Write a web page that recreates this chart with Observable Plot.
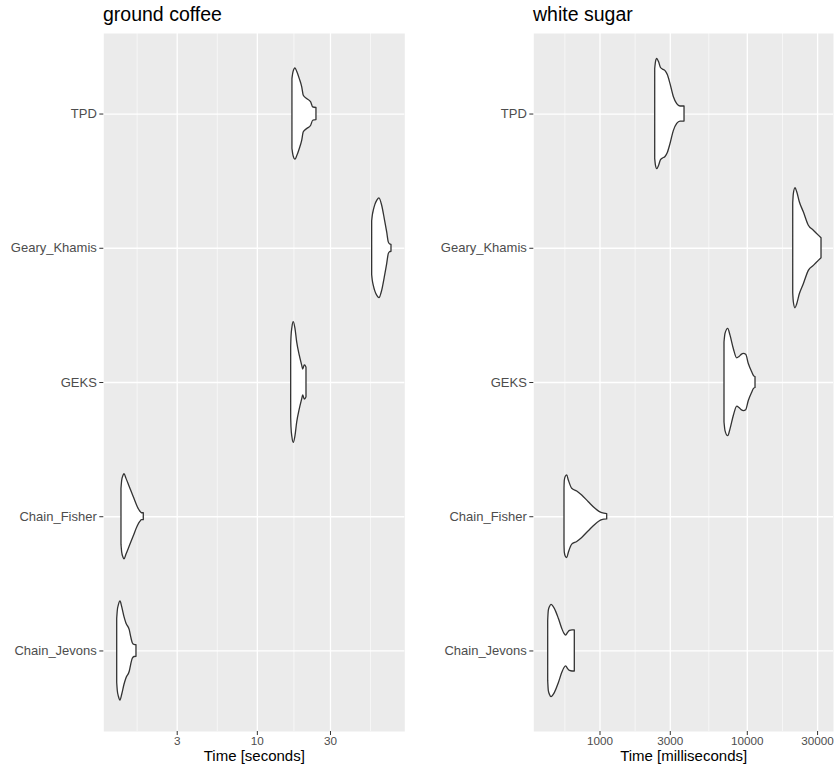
<!DOCTYPE html>
<html>
<head>
<meta charset="utf-8">
<script src="https://cdn.jsdelivr.net/npm/d3@7"></script>
<script src="https://cdn.jsdelivr.net/npm/@observablehq/plot@0.6"></script>
<style>
  html, body { margin: 0; padding: 0; background: white; }
  #wrap { position: relative; width: 837px; height: 769px; font-family: "Liberation Sans", Arial, sans-serif; }
  .ttl { position: absolute; top: 4px; font-size: 19.5px; line-height: 21px; color: #000; white-space: nowrap; }
  .pnl { position: absolute; top: 33px; }
</style>
</head>
<body>
<div id="wrap">
  <div class="ttl" style="left:103px">ground coffee</div>
  <div class="ttl" style="left:533px">white sugar</div>
  <div class="pnl" id="left" style="left:0px"></div>
  <div class="pnl" id="right" style="left:418px"></div>
</div>
<script>
// Categories (bottom to top)
const categories = ["Chain_Jevons", "Chain_Fisher", "GEKS", "Geary_Khamis", "TPD"];

// Axis breaks
const coffeeTicks = [3, 10, 30];
const coffeeMinor = [1.643, 5.477, 17.32, 54.77];
const sugarTicks = [1000, 3000, 10000, 30000];
const sugarMinor = [577.4, 1732, 5477, 17321];

// Violin profiles: [time, half-width (in category units)]
// ground coffee (seconds)
const coffee_Chain_Jevons = [[1.218,0.238],[1.229,0.298],[1.251,0.343],[1.280,0.369],[1.313,0.326],[1.359,0.252],[1.401,0.203],[1.472,0.153],[1.503,0.103],[1.539,0.058],[1.579,0.045],[1.627,0.043]];
const coffee_Chain_Fisher = [[1.299,0.208],[1.313,0.268],[1.339,0.305],[1.359,0.318],[1.401,0.282],[1.472,0.220],[1.563,0.145],[1.660,0.071],[1.728,0.037],[1.768,0.026],[1.816,0.026]];
const coffee_GEKS = [[16.62,0.26],[16.70,0.335],[16.94,0.41],[17.28,0.45],[17.73,0.399],[18.19,0.299],[18.91,0.200],[19.61,0.126],[19.90,0.097],[20.39,0.127],[20.76,0.119],[20.92,0.109]];
const coffee_Geary_Khamis = [[56.1,0.20],[56.6,0.24],[57.5,0.28],[58.97,0.325],[60.77,0.357],[62.6,0.372],[65.2,0.317],[67.8,0.218],[70.3,0.118],[72.0,0.044],[73.3,0.030],[75.0,0.026]];
const coffee_TPD = [[16.94,0.26],[17.2,0.31],[17.73,0.34],[18.19,0.315],[18.92,0.26],[19.61,0.20],[20.09,0.136],[21.13,0.112],[22.44,0.087],[23.13,0.05],[24.3,0.045]];

// white sugar (milliseconds)
const sugar_Chain_Jevons = [[444.9,0.223],[449.2,0.298],[457.7,0.328],[468.5,0.344],[493.3,0.314],[525.4,0.240],[553.9,0.165],[574.1,0.127],[589.5,0.115],[606.5,0.134],[625.7,0.149],[650.7,0.153],[674.5,0.153]];
const sugar_Chain_Fisher = [[574.1,0.208],[576.8,0.268],[585.9,0.298],[598.9,0.308],[614.1,0.270],[647.7,0.208],[700.3,0.188],[757.1,0.158],[839.3,0.108],[932.1,0.059],[1035,0.026],[1119,0.020]];
const sugar_GEKS = [[7001,0.298],[7112,0.362],[7419,0.400],[7690,0.349],[8097,0.250],[8540,0.180],[8851,0.190],[9205,0.208],[9468,0.213],[9829,0.206],[10237,0.138],[10796,0.076],[11105,0.048],[11369,0.041]];
const sugar_Geary_Khamis = [[20497,0.335],[20690,0.402],[21245,0.447],[21820,0.417],[22723,0.343],[24190,0.268],[26160,0.168],[28290,0.131],[30580,0.094],[31900,0.074]];
const sugar_TPD = [[2370,0.335],[2400,0.387],[2445,0.410],[2515,0.387],[2595,0.343],[2677,0.331],[2784,0.320],[2886,0.290],[3011,0.223],[3170,0.127],[3343,0.074],[3520,0.056],[3748,0.056]];

const coffeeSeries = [coffee_Chain_Jevons, coffee_Chain_Fisher, coffee_GEKS, coffee_Geary_Khamis, coffee_TPD];
const sugarSeries = [sugar_Chain_Jevons, sugar_Chain_Fisher, sugar_GEKS, sugar_Geary_Khamis, sugar_TPD];

function toRows(series) {
  const rows = [];
  series.forEach((s, i) => s.forEach(([t, hw]) => rows.push({cat: i + 1, t, hw})));
  return rows;
}

function panel({width, marginLeft, marginRight, domain, ticks, minor, label, series}) {
  const rows = toRows(series);
  return Plot.plot({
    width, height: 736,
    marginTop: 0, marginBottom: 38, marginLeft, marginRight,
    style: {fontFamily: "Liberation Sans, Arial, sans-serif", background: "white", color: "#4D4D4D", overflow: "visible"},
    x: {type: "log", domain},
    y: {domain: [0.4, 5.6]},
    marks: [
      Plot.frame({fill: "#EBEBEB", stroke: "none"}),
      Plot.gridX(minor, {stroke: "white", strokeOpacity: 1, strokeWidth: 0.6}),
      Plot.gridX(ticks, {stroke: "white", strokeOpacity: 1, strokeWidth: 1.3}),
      Plot.gridY([1, 2, 3, 4, 5], {stroke: "white", strokeOpacity: 1, strokeWidth: 1.3}),
      Plot.areaY(rows, {
        x: "t", y1: d => d.cat - d.hw, y2: d => d.cat + d.hw, z: "cat",
        fill: "white", stroke: "#333333", strokeWidth: 1.3, curve: "monotone-x"
      }),
      Plot.axisX(ticks, {tickSize: 4, tickFormat: () => "", stroke: "#333333", label: null}),
      Plot.text(ticks, {x: d => d, text: d => String(d), frameAnchor: "bottom", lineAnchor: "top", dy: 5, fontSize: 11.7, fill: "#4D4D4D"}),
      Plot.axisY([1, 2, 3, 4, 5], {tickSize: 4, tickPadding: 3, tickFormat: i => categories[i - 1], fontSize: 13, stroke: "#333333", fill: "#4D4D4D", label: null}),
      Plot.text([label], {text: d => d, frameAnchor: "bottom", dy: 29.5, fontSize: 15, fill: "#000000"})
    ]
  });
}

document.getElementById("left").appendChild(panel({
  width: 418, marginLeft: 103.3, marginRight: 13.7,
  domain: [0.996, 91.6], ticks: coffeeTicks, minor: coffeeMinor,
  label: "Time [seconds]", series: coffeeSeries
}));

document.getElementById("right").appendChild(panel({
  width: 419, marginLeft: 115.3, marginRight: 4,
  domain: [355.3, 38470], ticks: sugarTicks, minor: sugarMinor,
  label: "Time [milliseconds]", series: sugarSeries
}));
</script>
</body>
</html>
